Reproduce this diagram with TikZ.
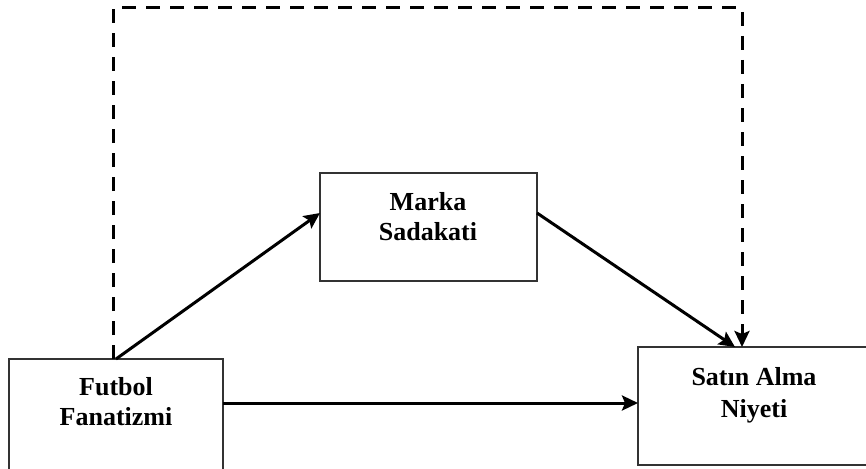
\documentclass[tikz,border=0pt]{standalone}
\usepackage{fontspec}
\setmainfont{Liberation Serif}
\usetikzlibrary{arrows.meta,calc}
\tikzset{
  boxnode/.style={draw=black!80, line width=1.8pt, rectangle, inner sep=0pt, outer sep=0pt},
  labnode/.style={inner sep=0pt, anchor=base, font=\fontsize{26}{30}\selectfont\bfseries},
  conn/.style={line width=3pt, -{Stealth[length=16pt,width=15pt,inset=3pt]}},
  dconn/.style={conn, dash pattern=on 14pt off 10pt},
}
\begin{document}
\begin{tikzpicture}[x=1pt,y=-1pt]
\useasboundingbox (0,0) rectangle (866,468);
\node[boxnode, minimum width=214pt, minimum height=111pt] (fut) at (116,414.5) {};
\node[boxnode, minimum width=234pt, minimum height=118pt] (sat) at (755,406) {};
\node[boxnode, minimum width=217pt, minimum height=108pt] (mar) at (428.5,227) {};
\node[labnode] (futt) at (116,395) {\begin{tabular}[t]{@{}c@{}}Futbol\\Fanatizmi\end{tabular}};
\node[labnode] (satt) at (754,385) {\begin{tabular}[t]{@{}c@{}}Satın Alma\\[2pt]Niyeti\end{tabular}};
\node[labnode] (mart) at (428,210) {\begin{tabular}[t]{@{}c@{}}Marka\\Sadakati\end{tabular}};
\coordinate (tl) at (113,8);
\coordinate (tr) at (742,8);
\coordinate (hy) at (0,403);
\draw[conn] (fut.north) -- ([yshift=14pt]mar.west);
\draw[conn] ([yshift=14pt]mar.east) -- ([xshift=-20pt]sat.north);
\draw[conn] (fut.east |- hy) -- (sat.west |- hy);
\draw[dconn] (fut.north -| tl) -- (tl) -- (tr) -- (tr |- sat.north);
\end{tikzpicture}
\end{document}
